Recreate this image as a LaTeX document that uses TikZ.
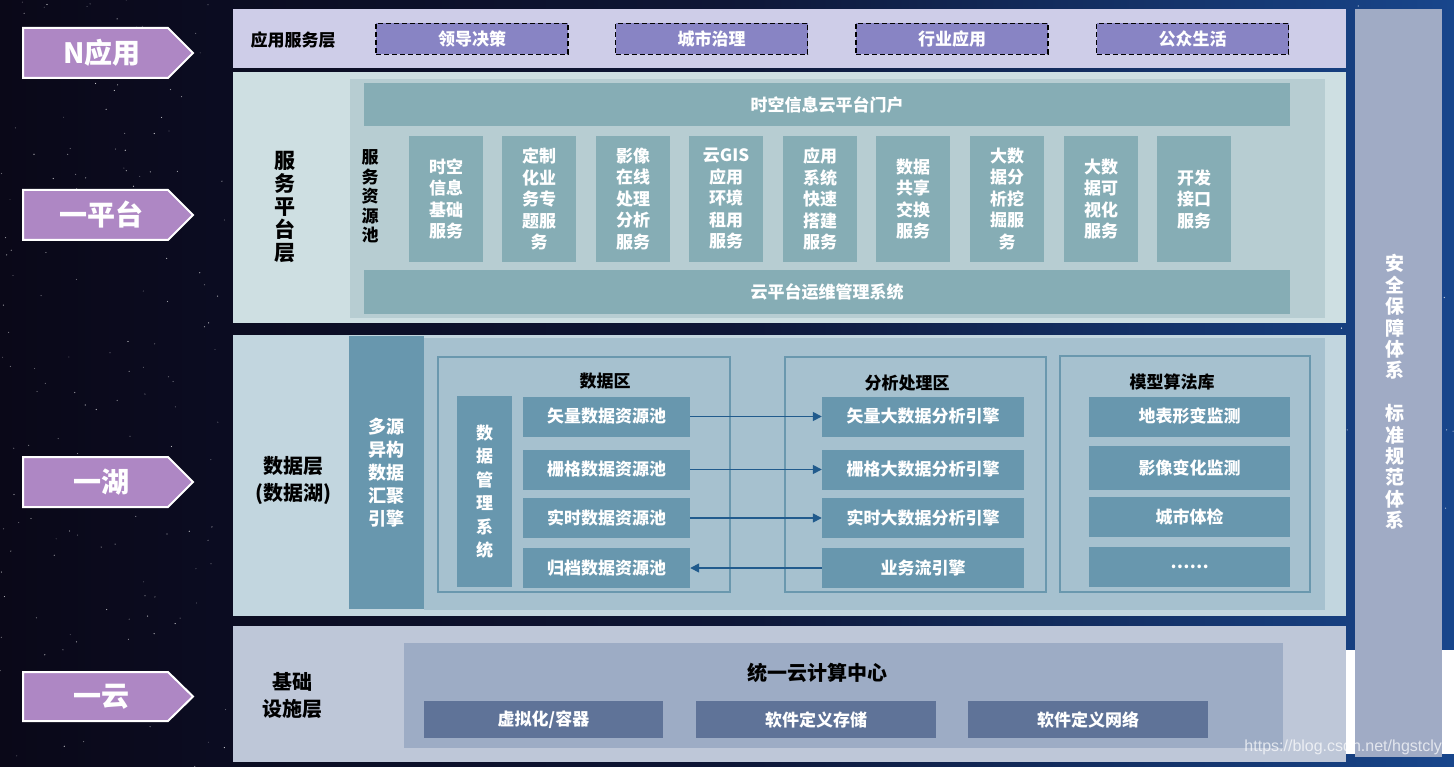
\documentclass[tikz,border=0pt]{standalone}
\usepackage{fontspec}
\setmainfont{Noto Sans CJK SC}
\newfontfamily\wmfont{Liberation Sans}
\usetikzlibrary{arrows.meta}
\definecolor{bgL}{HTML}{0A0818}
\definecolor{bgM}{HTML}{0E1636}
\definecolor{bgR}{HTML}{18468C}
\definecolor{appband}{HTML}{CECDE8}
\definecolor{appbox}{HTML}{8884C4}
\definecolor{platband}{HTML}{CEDFE2}
\definecolor{platinner}{HTML}{B7CDD2}
\definecolor{platbox}{HTML}{86ADB5}
\definecolor{databand}{HTML}{C2D6DF}
\definecolor{datainner}{HTML}{A6C1CF}
\definecolor{databox}{HTML}{6897AE}
\definecolor{frameline}{HTML}{6A98AE}
\definecolor{baseband}{HTML}{BEC7D8}
\definecolor{baseinner}{HTML}{9DACC5}
\definecolor{basebox}{HTML}{5F7398}
\definecolor{rightcol}{HTML}{A0ABC5}
\definecolor{tagfill}{HTML}{AE87C4}
\definecolor{flowline}{HTML}{215B8D}
\tikzset{
  txt/.style={inner sep=0, align=center, font=\bfseries\fontsize{17}{21.5}\selectfont},
  wtxt/.style={txt, text=white},
  btxt/.style={txt, text=black},
  appitem/.style={wtxt, fill=appbox, draw=black, line width=1.6pt, dash pattern=on 5pt off 3pt, minimum height=31pt, minimum width=192pt},
  svc/.style={wtxt, fill=platbox, minimum width=74pt, minimum height=126pt},
  bar/.style={wtxt, fill=platbox, minimum width=926pt},
  pool/.style={wtxt, fill=databox, minimum width=167pt, minimum height=40pt},
  engine/.style={wtxt, fill=databox, minimum width=202pt, minimum height=40pt},
  model/.style={wtxt, fill=databox, minimum width=201pt, minimum height=40pt},
  zone/.style={draw=frameline, line width=1.5pt},
  basebx/.style={wtxt, fill=basebox, minimum width=240pt, minimum height=37pt},
  tag/.style={fill=tagfill, draw=white, line width=2pt, line join=miter},
  tagtxt/.style={inner sep=0, text=white, font=\bfseries\fontsize{28}{30}\selectfont},
  flow/.style={draw=flowline, line width=1.5pt, -{Triangle[length=9pt,width=9pt]}},
}
\begin{document}
\begin{tikzpicture}[x=1pt,y=-1pt]
\useasboundingbox (0,0) rectangle (1454,767);
% background
\shade[left color=bgL, right color=bgR, middle color=bgM] (0,0) rectangle (1454,767);
\pgfmathsetseed{11}
\foreach \i in {1,...,160}{
  \pgfmathsetmacro\sx{rnd*228}
  \pgfmathsetmacro\sy{rnd*767}
  \pgfmathsetmacro\so{0.25+0.6*rnd}
  \fill[white, opacity=\so] (\sx,\sy) circle (0.6pt);
}
\foreach \i in {1,...,40}{
  \pgfmathsetmacro\sx{1340+rnd*114}
  \pgfmathsetmacro\sy{rnd*640}
  \pgfmathsetmacro\so{0.3+0.6*rnd}
  \fill[white, opacity=\so] (\sx,\sy) circle (0.7pt);
}

% left tags
\draw[tag] (23,28) -- (168,28) -- (193,53) -- (168,78) -- (23,78) -- cycle;
\node[tagtxt] (tN) at (102,53) {N应用};
\draw[tag] (23,190) -- (168,190) -- (193,215) -- (168,240) -- (23,240) -- cycle;
\node[tagtxt] (tP) at (101,215) {一平台};
\draw[tag] (23,457) -- (168,457) -- (193,482) -- (168,507) -- (23,507) -- cycle;
\node[tagtxt] (tL) at (101,482) {一湖};
\draw[tag] (23,672) -- (168,672) -- (193,696.5) -- (168,721) -- (23,721) -- cycle;
\node[tagtxt] (tC) at (101,696.5) {一云};

% right column
\fill[rightcol] (1355,9) rectangle (1442,757);
\fill[white] (1346,650) rectangle (1355,754);
\fill[white] (1442,650) rectangle (1454,754);
\node[wtxt, font=\bfseries\fontsize{19}{21.4}\selectfont] (sec) at (1395,392)
  {安\\全\\保\\障\\体\\系\\[21.4pt]标\\准\\规\\范\\体\\系};

% application layer
\fill[appband] (233,9) rectangle (1346,68);
\node[btxt] (appL) at (293,40) {应用服务层};
\node[appitem] (a1) at (472,39) {领导决策};
\node[appitem] (a2) at (711.5,39) {城市治理};
\node[appitem] (a3) at (952,39) {行业应用};
\node[appitem] (a4) at (1192.5,39) {公众生活};

% platform layer
\fill[platband] (233,72) rectangle (1346,323);
\fill[platinner] (350,79) rectangle (1325,318);
\node[btxt, font=\bfseries\fontsize{21}{23}\selectfont] (platL) at (285,207) {服\\务\\平\\台\\层};
\node[btxt, font=\bfseries\fontsize{17}{19.5}\selectfont] (pool) at (370,196.5) {服\\务\\资\\源\\池};
\node[bar, minimum height=43pt] (portal) at (827,104.5) {时空信息云平台门户};
\node[bar, minimum height=44pt] (ops) at (827,292) {云平台运维管理系统};
\node[svc] (s1) at (446,199) {时空\\信息\\基础\\服务};
\node[svc] (s2) at (539,199) {定制\\化业\\务专\\题服\\务};
\node[svc] (s3) at (633,199) {影像\\在线\\处理\\分析\\服务};
\node[svc] (s4) at (726,199) {云GIS\\应用\\环境\\租用\\服务};
\node[svc] (s5) at (820,199) {应用\\系统\\快速\\搭建\\服务};
\node[svc] (s6) at (913,199) {数据\\共享\\交换\\服务};
\node[svc] (s7) at (1007,199) {大数\\据分\\析挖\\掘服\\务};
\node[svc] (s8) at (1101,199) {大数\\据可\\视化\\服务};
\node[svc] (s9) at (1194,199) {开发\\接口\\服务};

% data layer
\fill[databand] (233,335) rectangle (1346,616);
\fill[datainner] (424,338) rectangle (1325,610);
\node[btxt, font=\bfseries\fontsize{20}{27}\selectfont] (dataL) at (293,480) {数据层\\(数据湖)};
\node[wtxt, fill=databox, minimum width=75pt, minimum height=273pt, font=\bfseries\fontsize{18}{23}\selectfont] (agg) at (386.5,472.5) {多源\\异构\\数据\\汇聚\\引擎};
\draw[zone] (438,357) rectangle (730,592);
\draw[zone] (785,357) rectangle (1046,592);
\draw[zone] (1060,356) rectangle (1310,592);
\node[btxt] (zD) at (605,381) {数据区};
\node[btxt] (zA) at (907,383) {分析处理区};
\node[btxt] (zM) at (1172,382) {模型算法库};
\node[wtxt, fill=databox, minimum width=55pt, minimum height=191pt, font=\bfseries\fontsize{17}{23.5}\selectfont] (dms) at (484.5,491.5) {数\\据\\管\\理\\系\\统};
\node[pool] (p1) at (606.5,416.5) {矢量数据资源池};
\node[pool] (p2) at (606.5,469.5) {栅格数据资源池};
\node[pool] (p3) at (606.5,518) {实时数据资源池};
\node[pool] (p4) at (606.5,568) {归档数据资源池};
\node[engine] (e1) at (923,416.5) {矢量大数据分析引擎};
\node[engine] (e2) at (923,469.5) {栅格大数据分析引擎};
\node[engine] (e3) at (923,518) {实时大数据分析引擎};
\node[engine] (e4) at (923,568) {业务流引擎};
\node[model] (m1) at (1189.5,416.5) {地表形变监测};
\node[model, minimum height=44pt] (m2) at (1189.5,468) {影像变化监测};
\node[model] (m3) at (1189.5,516.5) {城市体检};
\node[model] (m4) at (1189.5,567) {……};
\draw[flow] (p1) -- (e1);
\draw[flow] (p2) -- (e2);
\draw[flow] (p3) -- (e3);
\draw[flow] (e4) -- (p4);

% base layer
\fill[baseband] (233,626) rectangle (1346,762);
\fill[baseinner] (404,643) rectangle (1283,748);
\node[btxt, font=\bfseries\fontsize{20}{27}\selectfont] (baseL) at (292,696) {基础\\设施层};
\node[btxt, font=\bfseries\fontsize{20}{24}\selectfont] (cloud) at (817,673) {统一云计算中心};
\node[basebx, minimum width=239pt] (b1) at (543.5,719.5) {虚拟化/容器};
\node[basebx] (b2) at (816,719.5) {软件定义存储};
\node[basebx] (b3) at (1088,719.5) {软件定义网络};

% watermark
\node[anchor=east, inner sep=0, text=white, opacity=0.7, font=\wmfont\fontsize{16}{16}\selectfont] (wm) at (1451,747) {https://blog.csdn.net/hgstclyh};
\end{tikzpicture}
\end{document}
